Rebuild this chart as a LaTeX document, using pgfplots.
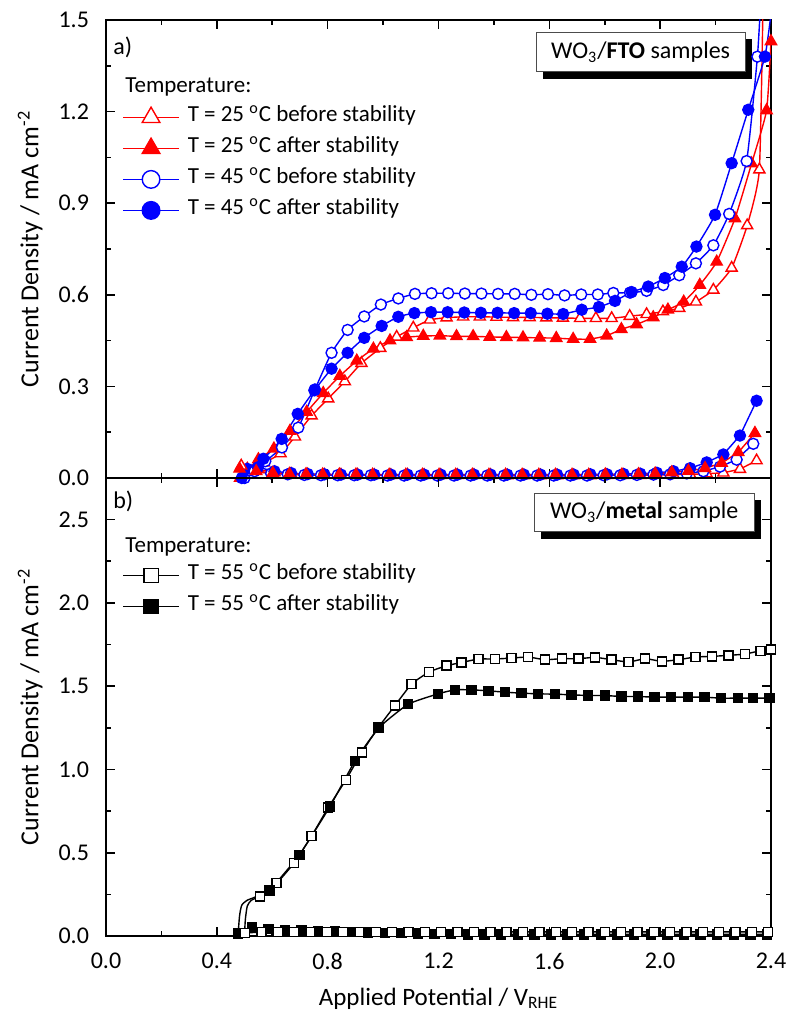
\documentclass[border=0pt]{standalone}
\usepackage{fontspec}
\setmainfont{Carlito}
\usepackage{pgfplots}
\pgfplotsset{compat=1.18}
\usetikzlibrary{shadows}

\tikzset{
  boxlabel/.style={draw=black!70, line width=0.5pt, fill=white, inner sep=0pt,
    drop shadow={shadow xshift=3.5pt, shadow yshift=-3.5pt, fill=black, opacity=1},
    font=\fontsize{12}{14}\selectfont},
}
\pgfplotsset{
  panel/.style={
    scale only axis, width=332.5pt, height=229pt,
    xmin=0, xmax=2.4, xtick={0,0.4,0.8,1.2,1.6,2.0,2.4},
    minor x tick num=1, minor y tick num=1,
    tick align=inside, major tick length=4.5pt, minor tick length=2.5pt,
    axis line style={line width=1pt},
    every tick/.style={black, line width=0.8pt},
    /pgf/number format/fixed, /pgf/number format/fixed zerofill,
    /pgf/number format/precision=1, /pgf/number format/assume math mode=true,
    tick label style={font=\fontsize{12}{14}\selectfont},
    x tick label style={yshift=-5pt},
    y tick label style={xshift=-5pt},
    label style={font=\fontsize{12.5}{14}\selectfont},
    ylabel style={at={(axis description cs:-0.114,0.5)}, anchor=center,
      font=\fontsize{13}{15}\selectfont},
    legend style={draw=none, fill=none, at={(axis description cs:0.024,0.822)},
      anchor=north west, inner sep=0pt, column sep=4pt, row sep=0pt,
      font=\fontsize{11.5}{13}\selectfont,
      nodes={inner sep=0pt, text height=10pt, text depth=5.5pt}},
    legend cell align=left,
    legend image code/.code={\draw[mark repeat=2,mark phase=2,
      /tikz/every mark/.append style={scale=1.6}]
      plot coordinates {(0pt,0pt) (14pt,0pt) (28pt,0pt)};},
  },
  ro/.style={red, line width=0.7pt, mark=triangle*, mark size=3.2pt, mark options={fill=white}},
  rf/.style={red, line width=0.7pt, mark=triangle*, mark size=3.2pt, mark options={fill=red}},
  bo/.style={blue, line width=0.7pt, mark=*, mark size=2.75pt, mark options={fill=white}},
  bf/.style={blue, line width=0.7pt, mark=*, mark size=2.75pt, mark options={fill=blue}},
  ko/.style={black, line width=0.7pt, mark=square*, mark size=2.25pt, mark options={fill=white}},
  kf/.style={black, line width=0.7pt, mark=square*, mark size=2.25pt, mark options={fill=black}},
}

\begin{document}
\begin{tikzpicture}
\useasboundingbox (-53pt,-43.5pt) rectangle (341pt,468pt);

% a) WO3/FTO
\begin{axis}[panel, at={(0pt,229pt)},
  ymin=0, ymax=1.5, ytick={0,0.3,0.6,0.9,1.2,1.5},
  xticklabels={},
  ylabel={Current Density / mA cm\textsuperscript{-2}}]

% illuminated, 25 C before
\addplot[ro, smooth, tension=0.3] coordinates {
 (0.490,0.000) (0.510,0.030) (0.570,0.050) (0.630,0.080) (0.682,0.135)
 (0.742,0.204) (0.802,0.260) (0.862,0.316) (0.922,0.376) (0.990,0.425)
 (1.049,0.462) (1.109,0.492) (1.169,0.518) (1.229,0.525) (1.289,0.528)
 (1.349,0.528) (1.409,0.527) (1.469,0.526) (1.529,0.526) (1.589,0.525)
 (1.649,0.524) (1.711,0.523) (1.768,0.523) (1.825,0.523) (1.890,0.530)
 (1.951,0.536) (2.010,0.545) (2.069,0.556) (2.129,0.577) (2.192,0.616)
 (2.258,0.688) (2.314,0.827) (2.358,1.010) (2.372,1.600)};
\addlegendentry{T = 25 \textsuperscript{o}C before stability}
% illuminated, 25 C after
\addplot[rf, smooth, tension=0.3] coordinates {
 (0.484,0.000) (0.550,0.061) (0.606,0.096) (0.664,0.154) (0.724,0.216)
 (0.784,0.278) (0.844,0.334) (0.905,0.384) (0.965,0.423) (1.025,0.450)
 (1.085,0.461) (1.145,0.465) (1.205,0.466) (1.265,0.464) (1.325,0.464)
 (1.385,0.462) (1.445,0.461) (1.505,0.460) (1.565,0.459) (1.625,0.458)
 (1.686,0.455) (1.747,0.455) (1.807,0.466) (1.860,0.487) (1.915,0.503)
 (1.975,0.526) (2.028,0.551) (2.085,0.577) (2.143,0.632) (2.204,0.708)
 (2.270,0.850) (2.330,1.030) (2.384,1.204) (2.400,1.430)};
\addlegendentry{T = 25 \textsuperscript{o}C after stability}
% illuminated, 45 C before
\addplot[bo, smooth, tension=0.3] coordinates {
 (0.500,0.000) (0.515,0.025) (0.575,0.055) (0.635,0.100) (0.694,0.165)
 (0.754,0.290) (0.814,0.410) (0.872,0.485) (0.932,0.529) (0.992,0.568)
 (1.055,0.588) (1.115,0.603) (1.175,0.605) (1.235,0.605) (1.295,0.604)
 (1.355,0.604) (1.415,0.603) (1.475,0.603) (1.535,0.600) (1.595,0.602)
 (1.655,0.598) (1.715,0.601) (1.775,0.601) (1.831,0.606) (1.891,0.607)
 (1.951,0.613) (2.011,0.632) (2.069,0.664) (2.129,0.703) (2.192,0.762)
 (2.249,0.865) (2.312,1.038) (2.351,1.380) (2.365,1.600)};
\addlegendentry{T = 45 \textsuperscript{o}C before stability}
% illuminated, 45 C after
\addplot[bf, smooth, tension=0.3] coordinates {
 (0.490,0.000) (0.510,0.030) (0.568,0.063) (0.634,0.128) (0.692,0.210)
 (0.752,0.287) (0.814,0.358) (0.872,0.410) (0.932,0.459) (0.995,0.498)
 (1.055,0.528) (1.113,0.540) (1.173,0.543) (1.233,0.543) (1.293,0.542)
 (1.353,0.541) (1.413,0.541) (1.473,0.540) (1.533,0.540) (1.593,0.538)
 (1.650,0.537) (1.717,0.551) (1.779,0.560) (1.837,0.580) (1.897,0.609)
 (1.957,0.627) (2.017,0.655) (2.078,0.692) (2.131,0.758) (2.198,0.862)
 (2.258,1.031) (2.318,1.206) (2.378,1.380) (2.400,1.520)};
\addlegendentry{T = 45 \textsuperscript{o}C after stability}

% dark branches
\addplot[ro, forget plot] coordinates {
 (0.488,0.040) (0.548,0.028) (0.608,0.018) (0.668,0.013) (0.728,0.011)
 (0.788,0.010) (0.848,0.010) (0.908,0.010) (0.968,0.009) (1.028,0.009)
 (1.088,0.010) (1.148,0.009) (1.208,0.009) (1.268,0.009) (1.328,0.009)
 (1.388,0.009) (1.448,0.008) (1.508,0.008) (1.568,0.008) (1.628,0.008)
 (1.688,0.008) (1.748,0.008) (1.808,0.009) (1.868,0.009) (1.928,0.009)
 (1.988,0.010) (2.048,0.011) (2.108,0.012) (2.168,0.014) (2.228,0.017)
 (2.288,0.029) (2.348,0.057)};
\addplot[bo, forget plot] coordinates {
 (0.536,0.022) (0.596,0.015) (0.656,0.012) (0.716,0.010) (0.776,0.009)
 (0.836,0.009) (0.896,0.009) (0.956,0.009) (1.016,0.008) (1.076,0.008)
 (1.136,0.008) (1.196,0.008) (1.256,0.008) (1.316,0.008) (1.376,0.008)
 (1.436,0.008) (1.496,0.008) (1.556,0.008) (1.616,0.008) (1.676,0.008)
 (1.736,0.008) (1.796,0.009) (1.856,0.009) (1.916,0.010) (1.976,0.011)
 (2.036,0.012) (2.096,0.015) (2.156,0.022) (2.216,0.037) (2.276,0.060)
 (2.336,0.112)};
\addplot[bf, forget plot] coordinates {
 (0.548,0.035) (0.608,0.022) (0.668,0.016) (0.728,0.013) (0.788,0.012)
 (0.848,0.011) (0.908,0.011) (0.968,0.011) (1.028,0.011) (1.088,0.011)
 (1.148,0.011) (1.208,0.011) (1.268,0.011) (1.328,0.011) (1.388,0.011)
 (1.448,0.011) (1.508,0.011) (1.568,0.011) (1.628,0.011) (1.688,0.011)
 (1.748,0.012) (1.808,0.012) (1.868,0.013) (1.928,0.014) (1.988,0.017)
 (2.048,0.022) (2.108,0.032) (2.168,0.051) (2.228,0.077) (2.288,0.139)
 (2.348,0.253)};
\addplot[rf, forget plot] coordinates {
 (0.482,0.030) (0.542,0.022) (0.602,0.016) (0.662,0.013) (0.722,0.012)
 (0.782,0.011) (0.842,0.011) (0.902,0.011) (0.962,0.010) (1.022,0.010)
 (1.082,0.010) (1.142,0.010) (1.202,0.010) (1.262,0.010) (1.322,0.010)
 (1.382,0.010) (1.442,0.010) (1.502,0.010) (1.562,0.010) (1.622,0.010)
 (1.682,0.010) (1.742,0.010) (1.802,0.011) (1.862,0.011) (1.922,0.012)
 (1.982,0.014) (2.042,0.018) (2.102,0.023) (2.162,0.032) (2.222,0.049)
 (2.282,0.084) (2.342,0.147)};

\node[anchor=west, inner sep=0pt, font=\fontsize{12}{14}\selectfont]
  at (axis description cs:0.0105,0.941) {a)};
\node[anchor=west, inner sep=0pt, font=\fontsize{11.5}{13}\selectfont]
  at (axis description cs:0.0286,0.854) {Temperature:};
\node[boxlabel, minimum width=104.5pt, minimum height=19.7pt]
  at (axis description cs:0.804,0.930) {WO\textsubscript{3}/\textbf{FTO} samples};
\end{axis}

% b) WO3/metal
\begin{axis}[panel, at={(0pt,0pt)},
  ymin=0, ymax=2.75, ytick={0,0.5,1.0,1.5,2.0,2.5},
  xlabel={Applied Potential / V\textsubscript{RHE}},
  xlabel style={at={(axis description cs:0.5,0)}, anchor=base, yshift=-34.5pt},
  ylabel={Current Density / mA cm\textsuperscript{-2}}]

\addplot[ko, smooth, tension=0.3] coordinates {
 (0.556,0.236) (0.616,0.317) (0.678,0.437) (0.742,0.601) (0.802,0.771)
 (0.866,0.938) (0.923,1.102) (0.983,1.252) (1.043,1.384) (1.103,1.513)
 (1.166,1.585) (1.229,1.623) (1.283,1.642) (1.344,1.663) (1.404,1.663)
 (1.464,1.669) (1.524,1.675) (1.584,1.659) (1.645,1.665) (1.705,1.665)
 (1.765,1.673) (1.825,1.659) (1.886,1.645) (1.946,1.665) (2.006,1.649)
 (2.066,1.659) (2.127,1.675) (2.187,1.679) (2.247,1.685) (2.307,1.693)
 (2.362,1.713) (2.400,1.720)};
\addlegendentry{T = 55 \textsuperscript{o}C before stability}
\addplot[kf, smooth, tension=0.3] coordinates {
 (0.590,0.272) (0.698,0.487) (0.808,0.777) (0.899,1.052) (0.986,1.252)
 (1.091,1.392) (1.199,1.454) (1.259,1.478) (1.319,1.478) (1.380,1.472)
 (1.440,1.464) (1.500,1.458) (1.560,1.454) (1.620,1.452) (1.680,1.448)
 (1.740,1.444) (1.800,1.444) (1.860,1.438) (1.920,1.438) (1.980,1.434)
 (2.040,1.434) (2.100,1.434) (2.160,1.434) (2.220,1.428) (2.280,1.428)
 (2.336,1.428) (2.394,1.428)};
\addlegendentry{T = 55 \textsuperscript{o}C after stability}

% onset of the illuminated scans
\addplot[black, line width=0.7pt, smooth, tension=0.4, forget plot] coordinates {
 (0.500,0.010) (0.503,0.100) (0.510,0.180) (0.525,0.215) (0.556,0.236)};
\addplot[black, line width=0.7pt, smooth, tension=0.4, forget plot] coordinates {
 (0.477,0.015) (0.482,0.120) (0.490,0.185) (0.510,0.215) (0.530,0.228) (0.590,0.272)};

% dark branches
\addplot[kf, forget plot] coordinates {
 (0.477,0.015) (0.526,0.050) (0.586,0.041) (0.646,0.036) (0.706,0.032)
 (0.766,0.029) (0.826,0.026) (0.886,0.023) (0.946,0.021) (1.006,0.019)
 (1.066,0.017) (1.126,0.015) (1.186,0.013) (1.246,0.012) (1.306,0.010)
 (1.366,0.010) (1.426,0.010) (1.486,0.010) (1.546,0.010) (1.606,0.010)
 (1.666,0.010) (1.726,0.010) (1.786,0.010) (1.846,0.010) (1.906,0.010)
 (1.966,0.010) (2.026,0.010) (2.086,0.010) (2.146,0.010) (2.206,0.010)
 (2.266,0.010) (2.326,0.010) (2.386,0.010)};
\addplot[ko, forget plot] coordinates {
 (0.502,0.018) (0.561,0.024) (0.620,0.025) (0.679,0.025) (0.738,0.025)
 (0.797,0.025) (0.856,0.025) (0.915,0.025) (0.974,0.025) (1.033,0.025)
 (1.092,0.025) (1.151,0.025) (1.210,0.025) (1.269,0.025) (1.328,0.025)
 (1.387,0.025) (1.446,0.025) (1.505,0.025) (1.564,0.025) (1.623,0.025)
 (1.682,0.025) (1.741,0.025) (1.800,0.025) (1.859,0.025) (1.918,0.025)
 (1.977,0.025) (2.036,0.025) (2.095,0.025) (2.154,0.025) (2.213,0.025)
 (2.272,0.025) (2.331,0.025) (2.390,0.025)};

\node[anchor=west, inner sep=0pt, font=\fontsize{12}{14}\selectfont]
  at (axis description cs:0.0105,0.949) {b)};
\node[anchor=west, inner sep=0pt, font=\fontsize{11.5}{13}\selectfont]
  at (axis description cs:0.0286,0.849) {Temperature:};
\node[boxlabel, minimum width=109.8pt, minimum height=19.2pt]
  at (axis description cs:0.8094,0.9247) {WO\textsubscript{3}/\textbf{metal} sample};
\end{axis}
\end{tikzpicture}
\end{document}
